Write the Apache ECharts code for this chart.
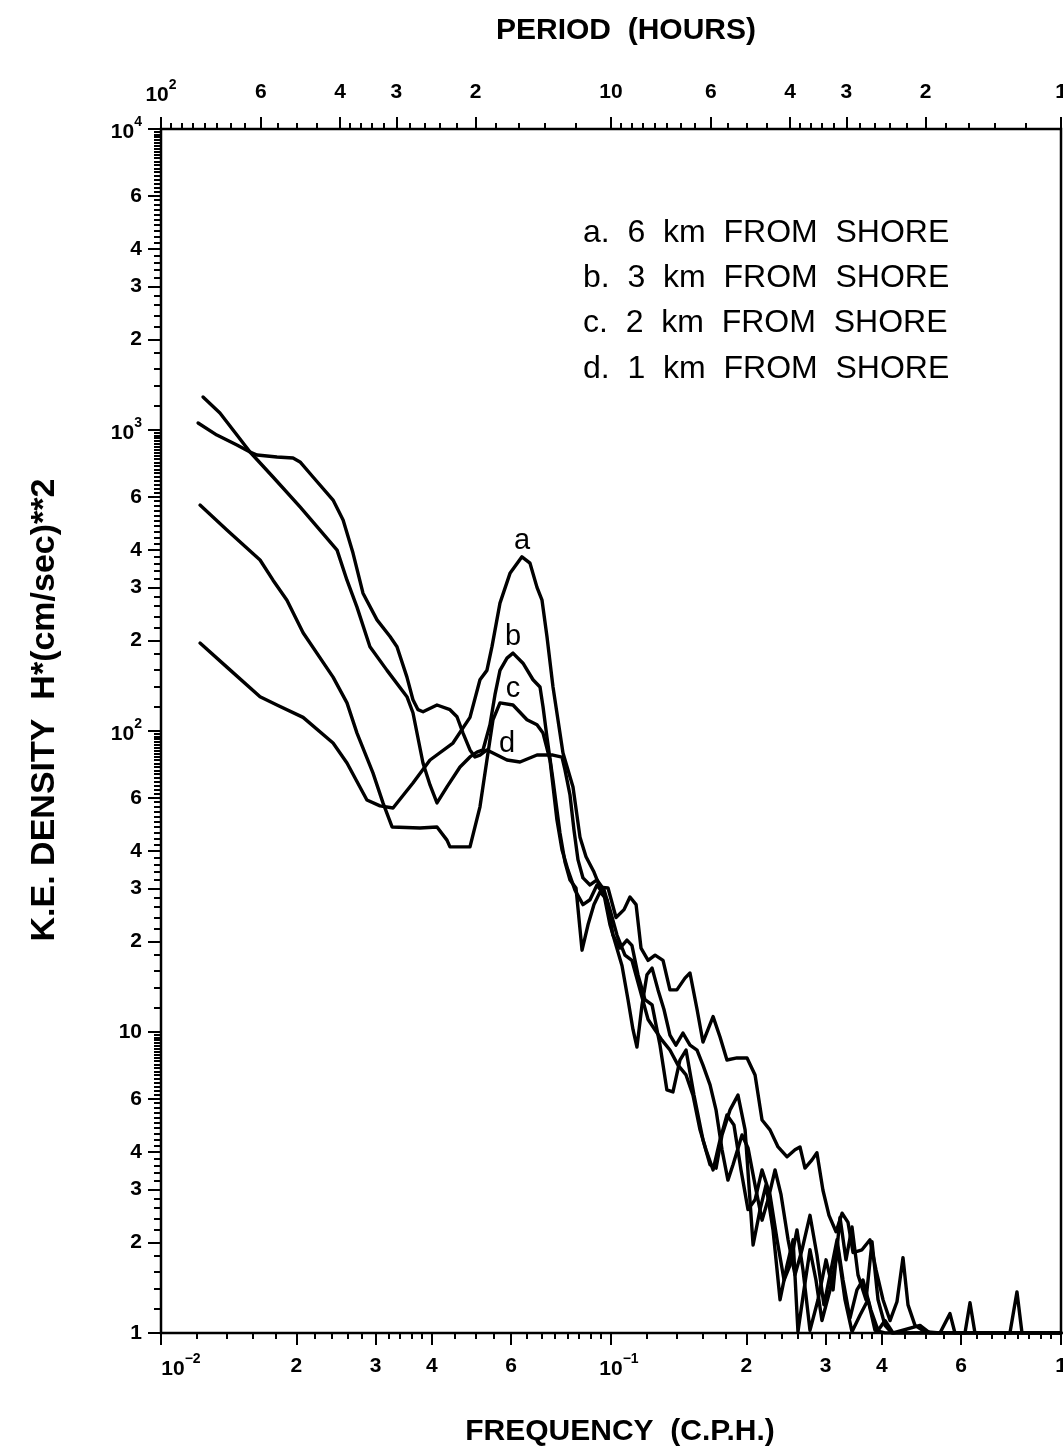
<!DOCTYPE html>
<html><head><meta charset="utf-8">
<script src="https://cdn.jsdelivr.net/npm/echarts@6/dist/echarts.min.js"></script>
<style>html,body{margin:0;padding:0;background:#fff}#c{width:1063px;height:1449px}</style>
</head><body><div id="c"></div>
<script>
// ---- data (frequency in c.p.h., K.E. density) ----
const freqA = [0.01221,0.01401,0.0166,0.0181,0.02069,0.02412,0.0259,0.02868,0.03067,0.03278,0.0363,0.03961,0.04455,0.0486,0.05115,0.0530,0.0544,0.05666,0.05964,0.0634,0.06607,0.06848,0.07026,0.07206,0.07432,0.07822,0.08233,0.08533,
  0.0880,0.09166,0.09453,0.09849,0.1026,0.1069,0.1102,0.1137,0.1166,0.1209,0.1253,0.1305,0.1352,0.1401,0.146,0.1498,0.1553,0.1601,0.1643,0.1686,0.1747,0.181,0.1905,0.2006,0.209,0.2166,0.2256,0.2351,0.2462,0.2564,0.263,0.2698,0.2797,0.2868,0.2958,0.3051,0.3163,0.3262,0.3363,0.345,0.3612,0.3763,0.3881,0.4022,0.4169,0.432,0.4455,0.4571,0.4737,0.4985,0.5383,0.5666,0.5812,0.770,0.7983,0.8191,1.0];
const densA = [196,163,130,122,111,91.2,78.3,59.0,56.4,55.5,67.2,80.1,91.2,111,148,159,191,266,334,379,361,300,272,206,140,84.5,65.2,44.4,
  38.2,34.0,30.3,30.1,24.0,25.5,28.1,26.5,19.0,17.3,18.0,17.3,13.8,13.8,15.1,15.7,11.9,9.26,10.2,11.25,9.62,8.07,8.2,8.2,7.2,5.10,4.73,4.15,3.85,4.06,4.15,3.53,3.76,3.97,2.98,2.46,2.17,2.50,2.33,1.85,1.89,2.04,1.62,1.29,1.10,1.27,1.78,1.24,1.06,1.01,1.0,1.16,1.0,1.0,1.37,1.0,1.0];

const freqB = [0.0124,0.01352,0.01446,0.01577,0.01774,0.02037,0.02256,0.02462,0.0259,0.02726,0.02913,0.03179,0.0352,0.0363,0.03821,0.03961,0.04105,0.0432,0.04618,0.0486,0.05037,0.05194,0.05383,0.05523,0.05666,0.05873,0.06056,0.06374,0.0671,0.06954,0.07062,0.07206,0.07432,0.07702,
  0.07902,0.08107,0.0836,0.08622,0.0889,0.09166,0.09453,0.09797,0.101,0.1047,0.1085,0.1113,0.1148,0.119,0.1234,0.1285,0.1331,0.1373,0.1423,0.1468,0.1529,0.1601,0.166,0.1712,0.1765,0.1838,0.1915,0.1986,0.2069,0.2144,0.221,0.2291,0.2375,0.2462,0.2539,0.2603,0.2684,0.2768,0.2854,0.2943,0.3067,0.3195,0.3311,0.3432,0.3575,0.3725,0.3861,0.4063,1.0];
const densB = [1287,1139,1000,845,698,555,465,399,317,258,190.6,159,130,115,78.3,66.2,57.7,65.2,75.9,82,85.1,86.5,104.9,132,159,174.7,181.5,168,148,140,120.4,95.4,68.8,45.8,
  36.7,32.0,30.1,18.7,22.7,26.5,29.2,27.5,21.0,19.0,20.2,19.4,15.5,12.8,12.3,9.04,6.42,6.32,8.07,8.71,6.17,4.38,3.62,3.53,4.55,5.50,6.17,4.73,1.96,2.57,3.10,2.20,1.29,1.68,2.04,1.01,1.39,1.89,1.50,1.10,1.39,1.89,1.29,1.01,1.145,1.29,1.02,1.0,1.0];

const freqC = [0.01221,0.01401,0.0166,0.01774,0.01905,0.02069,0.02412,0.0259,0.02726,0.02958,0.03114,0.03262,0.03763,0.04105,0.0432,0.04387,0.0486,0.05115,0.0530,0.05467,0.05666,0.06056,0.06506,0.06848,0.07062,0.07318,0.07584,
  0.07782,0.08025,0.08317,0.08665,0.08981,0.09308,0.09648,0.09949,0.1026,0.1058,0.1091,0.1119,0.1142,0.1172,0.1202,0.1234,0.1272,0.1311,0.1352,0.1394,0.1445,0.1498,0.1553,0.1601,0.166,0.1712,0.1765,0.1819,0.1867,0.1955,0.2016,0.209,0.2166,0.2233,0.2315,0.2387,0.2475,0.2564,0.2657,0.2768,0.2868,0.2973,0.3083,0.3179,0.3278,0.3397,0.352,0.363,0.3782,0.3921,0.4063,0.4234,0.486,0.5115,0.6118,0.6277,0.6439,1.0];
const densC = [563,465,370,317,272,212,151,124,98.4,72.6,57.7,48.0,47.6,48.0,43.4,41.2,41.2,56.0,80.1,109,124,122,109,104.9,98.4,80.1,50.6,
  40.3,34.5,29.6,26.5,27.5,30.8,28.6,22.7,19.4,16.6,12.8,10.2,8.91,12.3,15.5,16.3,13.8,11.9,9.77,9.04,9.92,9.04,8.71,7.76,6.67,5.50,4.06,3.22,3.62,4.55,4.12,3.10,2.37,2.77,3.48,2.88,2.04,1.56,1.89,2.46,1.82,1.24,1.62,2.04,1.50,1.12,1.39,1.50,1.19,1.02,1.10,1.0,1.06,1.0,1.0,1.26,1.0,1.0];

const freqD = [0.01209,0.01331,0.01475,0.01577,0.01635,0.0181,0.01965,0.02037,0.02177,0.02412,0.02539,0.02671,0.02811,0.0302,0.03228,0.03345,0.0352,0.0363,0.03725,0.03822,0.04105,0.04387,0.04547,0.0469,0.0486,0.04985,0.05115,0.0530,0.05579,0.05873,0.06277,0.06848,0.07432,0.07782,
  0.07902,0.08107,0.08274,0.08447,0.08665,0.08981,0.09308,0.09648,0.09949,0.1031,0.1074,0.1113,0.116,0.1209,0.1253,0.1298,0.1352,0.1409,0.1468,0.1521,0.1577,0.1626,0.1686,0.1747,0.181,0.1876,0.1945,0.2016,0.209,0.2166,0.2256,0.2339,0.2424,0.25,0.259,0.2671,0.2768,0.2884,0.3005,0.3115,0.3228,0.3328,0.3432,0.3539,0.3687,0.3802,0.3921,0.4063,0.4212,1.0];
const densD = [1055,962,891,845,826,813,807,783,698,585,502,390,287,234,206,190.6,151,127,117.7,115.9,122,117.7,111.5,98.4,86.5,82.0,83.2,86.5,83.2,80.1,78.9,83.2,83.2,81.9,
  74.3,61.3,46.9,37.3,32.5,30.8,32.0,29.7,25.5,21.0,18.0,17.3,13.8,11.0,10.15,9.4,8.71,7.76,7.2,6.17,4.73,4.06,3.48,4.38,5.30,4.91,3.48,2.57,2.77,3.48,2.88,2.04,1.50,1.68,2.20,1.62,1.02,1.29,1.75,1.39,2.42,1.75,2.25,1.56,1.29,2.01,1.29,1.06,1.0,1.0];

const seriesNames = ['a. 6 km FROM SHORE','b. 3 km FROM SHORE','c. 2 km FROM SHORE','d. 1 km FROM SHORE'];
const legendLines = ['a.  6  km  FROM  SHORE','b.  3  km  FROM  SHORE','c.  2  km  FROM  SHORE','d.  1  km  FROM  SHORE'];
const curveLetters = ['a','b','c','d'];
// letter anchor points (on each curve's peak/plateau)
const letterFreq = [0.0634, 0.06056, 0.06056, 0.05873];
const letterDens = [379, 181.5, 122, 80.1];

// ---- tick labels ----
const xMajorTicks = [0.01,0.02,0.03,0.04,0.06,0.1,0.2,0.3,0.4,0.6,1];
const xMajorLabels = ['10^-2','2','3','4','6','10^-1','2','3','4','6','1'];
const periodMajor = [100,60,40,30,20,10,6,4,3,2,1];
const periodLabels = ['10^2','6','4','3','2','10','6','4','3','2','1'];
const yMajorTicks = [1,2,3,4,6,10,20,30,40,60,100,200,300,400,600,1000,2000,3000,4000,6000,10000];
const yMajorLabels = ['1','2','3','4','6','10','2','3','4','6','10^2','2','3','4','6','10^3','2','3','4','6','10^4'];

// minor tick positions
const xMinorMant = [1.2,1.4,1.6,1.8,2.2,2.4,2.6,2.8,3.2,3.4,3.6,3.8,4.5,5,5.5,6.5,7,7.5,8,8.5,9,9.5];
const xMinor = [];
[0.01,0.1].forEach(d => xMinorMant.forEach(m => xMinor.push(d*m)));
const periodMinor = [95,90,85,80,75,70,65,55,50,45,38,36,34,32,28,26,24,22,18,16,14,12,
  9.5,9,8.5,8,7.5,7,6.5,5.5,5,4.5,3.8,3.6,3.4,3.2,2.8,2.6,2.4,2.2,1.8,1.6,1.4,1.2];
const yMinor = [];
[1,10,100,1000].forEach(d => { for (let k = 6; k < 50; k++) { const m = k/5; if ([2,3,4,6].indexOf(Math.round(m*10)/10) < 0) yMinor.push(d*m); } });

const FONT = '"Liberation Sans", Arial, Helvetica, sans-serif';
const L = Math.log10;

function makeFormatter(vals, labels, shiftFirst) {
  const lv = vals.map(L);
  return function (v) {
    let best = 0, bd = 1e9;
    lv.forEach((x, i) => { const d = Math.abs(x - v); if (d < bd) { bd = d; best = i; } });
    const lab = labels[best];
    if (lab.indexOf('^') >= 0) {
      const p = lab.split('^');
      const bs = shiftFirst ? (best === 0 ? 'bf' : 'bs') : 'b';
      return '{' + bs + '|' + p[0] + '}{s|' + p[1].replace('-', '\u2212') + '}';
    }
    return '{n|' + lab + '}';
  };
}
const baseTxt = {fontSize: 21, fontWeight: 'bold', fontFamily: FONT, color: '#000', lineHeight: 28};
const rich = {
  b: Object.assign({verticalAlign: 'bottom'}, baseTxt),
  bs: Object.assign({verticalAlign: 'bottom', padding: [0, 0, 0, 16]}, baseTxt),
  bf: Object.assign({verticalAlign: 'bottom', padding: [0, 0, 0, 40]}, baseTxt),
  s: {fontSize: 14, fontWeight: 'bold', fontFamily: FONT, color: '#000', lineHeight: 14, verticalAlign: 'top'},
  n: Object.assign({}, baseTxt)
};
const tickStyle = {color: '#000', width: 2};

const chart = echarts.init(document.getElementById('c'), null, {renderer: 'canvas'});

const series = [[freqA,densA],[freqB,densB],[freqC,densC],[freqD,densD]].map((fd, i) => ({
  name: seriesNames[i],
  type: 'line',
  xAxisIndex: 0, yAxisIndex: 0,
  data: fd[0].map((f, j) => [f, fd[1][j]]),
  showSymbol: false,
  symbol: 'none',
  lineStyle: {color: '#000', width: 3.4, join: 'round', cap: 'round'},
  clip: true,
  animation: false,
  markPoint: {
    symbol: 'circle', symbolSize: 0, animation: false,
    label: {show: true, formatter: curveLetters[i], color: '#000', fontSize: 29, fontFamily: FONT, offset: [0, -16]},
    data: [{coord: [letterFreq[i], letterDens[i]]}]
  }
}));

const noAxis = {axisLine: {show: false, onZero: false}, axisTick: {show: false}, axisLabel: {show: false}, splitLine: {show: false}};
const hiddenLine = {show: false, onZero: false};
const rect = {left: 161, right: 2, top: 129, bottom: 116, containLabel: false, outerBoundsMode: 'none'};

const option = {
  backgroundColor: '#fff',
  animation: false,
  grid: [
    Object.assign({show: true, borderColor: '#000', borderWidth: 2.5, backgroundColor: 'transparent'}, rect),
    Object.assign({show: false}, rect),
    Object.assign({show: false}, rect)
  ],
  xAxis: [
    Object.assign({type: 'log', logBase: 10, min: 0.01, max: 1, position: 'bottom', gridIndex: 0}, noAxis),
    {type: 'value', gridIndex: 1, min: -2, max: 0, position: 'bottom', axisLine: hiddenLine, splitLine: {show: false},
     axisTick: {show: true, customValues: xMajorTicks.map(L), length: 12, lineStyle: tickStyle},
     axisLabel: {show: true, customValues: xMajorTicks.map(L), margin: 19, formatter: makeFormatter(xMajorTicks, xMajorLabels, true), rich: rich}},
    {type: 'value', gridIndex: 1, min: -2, max: 0, position: 'top', axisLine: hiddenLine, splitLine: {show: false},
     axisTick: {show: true, customValues: periodMajor.map(p => L(1/p)), length: 12, lineStyle: tickStyle},
     axisLabel: {show: true, customValues: periodMajor.map(p => L(1/p)), margin: 23,
       formatter: makeFormatter(periodMajor.map(p => 1/p), periodLabels, false), rich: rich}},
    {type: 'value', gridIndex: 2, min: -2, max: 0, position: 'bottom', axisLine: hiddenLine, splitLine: {show: false}, axisLabel: {show: false},
     axisTick: {show: true, customValues: xMinor.map(L), length: 6, lineStyle: tickStyle}},
    {type: 'value', gridIndex: 2, min: -2, max: 0, position: 'top', axisLine: hiddenLine, splitLine: {show: false}, axisLabel: {show: false},
     axisTick: {show: true, customValues: periodMinor.map(p => L(1/p)), length: 6, lineStyle: tickStyle}}
  ],
  yAxis: [
    Object.assign({type: 'log', logBase: 10, min: 1, max: 10000, position: 'left', gridIndex: 0}, noAxis),
    {type: 'value', gridIndex: 1, min: 0, max: 4, position: 'left', axisLine: hiddenLine, splitLine: {show: false},
     axisTick: {show: true, customValues: yMajorTicks.map(L), length: 13, lineStyle: tickStyle},
     axisLabel: {show: true, customValues: yMajorTicks.map(L), margin: 19, formatter: makeFormatter(yMajorTicks, yMajorLabels, false), rich: rich}},
    {type: 'value', gridIndex: 2, min: 0, max: 4, position: 'left', axisLine: hiddenLine, splitLine: {show: false}, axisLabel: {show: false},
     axisTick: {show: true, customValues: yMinor.map(L), length: 7, lineStyle: tickStyle}}
  ],
  graphic: [
    {type: 'text', x: 626, y: 31, style: {text: 'PERIOD  (HOURS)', fill: '#000', font: 'bold 30px ' + FONT, align: 'center', verticalAlign: 'middle'}},
    {type: 'text', x: 620, y: 1432, style: {text: 'FREQUENCY  (C.P.H.)', fill: '#000', font: 'bold 30px ' + FONT, align: 'center', verticalAlign: 'middle'}},
    {type: 'text', x: 45, y: 710, rotation: Math.PI / 2, style: {text: 'K.E. DENSITY  H*(cm/sec)**2', fill: '#000', font: 'bold 34px ' + FONT, align: 'center', verticalAlign: 'middle'}}
  ].concat(legendLines.map((t, i) => ({
    type: 'text', x: 583, y: 233 + i * 45.3,
    style: {text: t, fill: '#000', font: '32px ' + FONT, align: 'left', verticalAlign: 'middle'}
  }))),
  series: series
};
chart.setOption(option);
</script>
</body></html>
